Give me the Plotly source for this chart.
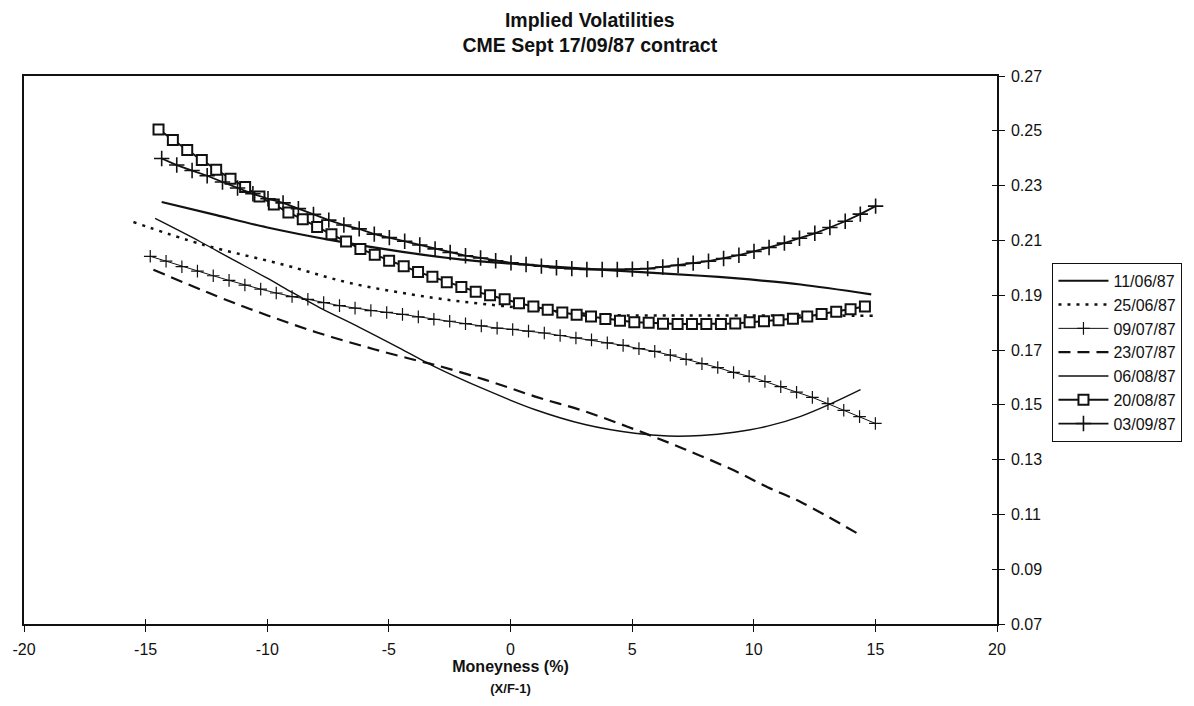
import plotly.graph_objects as go

# ---------------- data ----------------
x_1106 = [-14.34, -12.09, -10.04, -7.31, -4.44, -1.99, 0.5, 3.0, 5.38, 7.84, 9.2, 11.93, 14.83]
y_1106 = [0.2240, 0.2192, 0.2148, 0.2100, 0.2058, 0.2030, 0.2012, 0.1997, 0.1984, 0.1971, 0.1962, 0.1939, 0.1903]

x_2506 = [-15.5, -12.63, -9.36, -6.62, -3.21, -0.35, 3.75, 7.84, 11.93, 14.9]
y_2506 = [0.2167, 0.2084, 0.2012, 0.1945, 0.1891, 0.1861, 0.1829, 0.1826, 0.1826, 0.1825]

x_0907 = [-14.81, -14.16, -13.51, -12.87, -12.22, -11.57, -10.92, -10.27, -9.63, -8.98,
          -8.33, -7.68, -7.03, -6.39, -5.74, -5.09, -4.44, -3.79, -3.15, -2.50,
          -1.85, -1.20, -0.55, 0.09, 0.74, 1.39, 2.04, 2.69, 3.33, 3.98,
          4.63, 5.28, 5.93, 6.57, 7.22, 7.87, 8.52, 9.17, 9.81, 10.46,
          11.11, 11.76, 12.41, 13.05, 13.70, 14.35, 15.00]
y_0907 = [0.2042, 0.2024, 0.2004, 0.1988, 0.1971, 0.1954, 0.1937, 0.1922, 0.1908, 0.1895,
          0.1885, 0.1873, 0.1862, 0.1853, 0.1844, 0.1837, 0.1830, 0.1821, 0.1812, 0.1805,
          0.1796, 0.1788, 0.1780, 0.1775, 0.1769, 0.1762, 0.1753, 0.1744, 0.1737, 0.1726,
          0.1717, 0.1705, 0.1695, 0.1681, 0.1666, 0.1650, 0.1636, 0.1618, 0.1604, 0.1585,
          0.1566, 0.1546, 0.1527, 0.1504, 0.1480, 0.1457, 0.1432]

x_2307 = [-14.68, -12.09, -10.04, -7.99, -5.94, -4.17, -3.08, -1.03, 1.02, 3.06,
          5.11, 7.16, 9.20, 10.57, 11.93, 14.47]
y_2307 = [0.1993, 0.1897, 0.1828, 0.1765, 0.1711, 0.1669, 0.1645, 0.1591, 0.1530, 0.1476,
          0.1410, 0.1338, 0.1260, 0.1199, 0.1145, 0.1020]

x_0608 = [-14.61, -12.77, -11.54, -10.04, -8.95, -7.85, -6.21, -4.58, -3.21, -1.03,
          1.02, 3.06, 5.11, 6.48, 7.84, 9.20, 10.57, 11.93, 13.2, 14.39]
y_0608 = [0.2180, 0.2096, 0.2036, 0.1964, 0.1909, 0.1855, 0.1783, 0.1708, 0.1643, 0.1555,
          0.1482, 0.1428, 0.1396, 0.1386, 0.1388, 0.1400, 0.1422, 0.1458, 0.1505, 0.1555]

x_2008 = [-14.47, -13.88, -13.29, -12.69, -12.10, -11.51, -10.91, -10.32, -9.73, -9.13,
          -8.54, -7.95, -7.36, -6.76, -6.17, -5.58, -4.99, -4.39, -3.80, -3.21,
          -2.62, -2.02, -1.43, -0.84, -0.24, 0.35, 0.94, 1.53, 2.13, 2.72,
          3.31, 3.90, 4.50, 5.09, 5.68, 6.27, 6.87, 7.46, 8.05, 8.65,
          9.24, 9.83, 10.42, 11.02, 11.61, 12.20, 12.79, 13.39, 13.98, 14.57]
y_2008 = [0.2505, 0.2466, 0.2430, 0.2393, 0.2358, 0.2325, 0.2295, 0.2260, 0.2231, 0.2202,
          0.2177, 0.2149, 0.2122, 0.2096, 0.2069, 0.2048, 0.2026, 0.2006, 0.1985, 0.1967,
          0.1947, 0.1930, 0.1913, 0.1900, 0.1885, 0.1871, 0.1859, 0.1847, 0.1837, 0.1829,
          0.1822, 0.1813, 0.1807, 0.1801, 0.1799, 0.1796, 0.1795, 0.1795, 0.1795, 0.1795,
          0.1797, 0.1801, 0.1805, 0.1809, 0.1814, 0.1822, 0.1831, 0.1840, 0.1849, 0.1859]

x_0309 = [-14.34, -13.72, -13.09, -12.47, -11.84, -11.22, -10.59, -9.97, -9.35, -8.72,
          -8.10, -7.47, -6.85, -6.22, -5.60, -4.98, -4.35, -3.73, -3.10, -2.48,
          -1.85, -1.23, -0.61, 0.02, 0.64, 1.27, 1.89, 2.52, 3.14, 3.77,
          4.39, 5.01, 5.64, 6.26, 6.89, 7.51, 8.14, 8.76, 9.39, 10.01,
          10.63, 11.26, 11.88, 12.51, 13.13, 13.76, 14.38, 15.01]
y_0309 = [0.2399, 0.2375, 0.2355, 0.2336, 0.2313, 0.2291, 0.2270, 0.2252, 0.2237, 0.2216,
          0.2195, 0.2174, 0.2156, 0.2142, 0.2123, 0.2110, 0.2097, 0.2083, 0.2069, 0.2056,
          0.2044, 0.2036, 0.2026, 0.2018, 0.2012, 0.2006, 0.2000, 0.1997, 0.1994, 0.1994,
          0.1994, 0.1995, 0.1997, 0.2003, 0.2009, 0.2017, 0.2024, 0.2034, 0.2046, 0.2060,
          0.2074, 0.2090, 0.2108, 0.2126, 0.2147, 0.2170, 0.2196, 0.2225]

x_ticks = [-20, -15, -10, -5, 0, 5, 10, 15, 20]
x_tick_labels = ["-20", "-15", "-10", "-5", "0", "5", "10", "15", "20"]
y_ticks = [0.07, 0.09, 0.11, 0.13, 0.15, 0.17, 0.19, 0.21, 0.23, 0.25, 0.27]

FONT = "Liberation Sans, Arial, Helvetica, sans-serif"
BLACK = "#111111"

fig = go.Figure()

fig.add_trace(go.Scatter(x=x_1106, y=y_1106, name="11/06/87", mode="lines",
                         line=dict(color=BLACK, width=2.2, shape="spline", smoothing=0.8)))
fig.add_trace(go.Scatter(x=x_2506, y=y_2506, name="25/06/87", mode="lines",
                         line=dict(color=BLACK, width=2.5, dash="3px,6px", shape="spline")))
fig.add_trace(go.Scatter(x=x_0907, y=y_0907, name="09/07/87", mode="lines+markers",
                         line=dict(color=BLACK, width=1),
                         marker=dict(symbol="cross-thin", size=9, color=BLACK,
                                     line=dict(color=BLACK, width=1.2))))
fig.add_trace(go.Scatter(x=x_2307, y=y_2307, name="23/07/87", mode="lines",
                         line=dict(color=BLACK, width=2.2, dash="12px,7px", shape="spline")))
fig.add_trace(go.Scatter(x=x_0608, y=y_0608, name="06/08/87", mode="lines",
                         line=dict(color=BLACK, width=1.4, shape="spline")))
fig.add_trace(go.Scatter(x=x_2008, y=y_2008, name="20/08/87", mode="lines+markers",
                         line=dict(color=BLACK, width=2),
                         marker=dict(symbol="square", size=10, color="white",
                                     line=dict(color=BLACK, width=2))))
fig.add_trace(go.Scatter(x=x_0309, y=y_0309, name="03/09/87", mode="lines+markers",
                         line=dict(color=BLACK, width=1.8),
                         marker=dict(symbol="cross-thin", size=11, color=BLACK,
                                     line=dict(color=BLACK, width=1.6))))

# invisible helper trace for the overlay axes carrying the inner halves of the ticks
fig.add_trace(go.Scatter(x=[x_ticks[0]], y=[y_ticks[0]], xaxis="x2", yaxis="y2",
                         mode="markers", marker=dict(opacity=0), showlegend=False,
                         hoverinfo="skip"))

fig.update_layout(
    width=1194, height=706,
    paper_bgcolor="white", plot_bgcolor="white",
    margin=dict(l=20, r=197, t=76, b=76),
    font=dict(family=FONT, color=BLACK, size=16),
    title=dict(text="<b>Implied Volatilities<br>CME Sept 17/09/87 contract</b>",
               x=0.494, xanchor="center", y=0.962, yanchor="top",
               font=dict(family=FONT, size=19.5, color=BLACK)),
    xaxis=dict(range=[-20, 20], tickvals=x_ticks, ticktext=x_tick_labels,
               ticks="outside", ticklen=6, ticklabelstandoff=4,
               tickwidth=1.2, tickcolor=BLACK, showline=True, linecolor=BLACK,
               linewidth=1.5, mirror=True, showgrid=False, zeroline=False,
               tickfont=dict(size=16),
               title=dict(text="<b>Moneyness (%)</b><br><span style='font-size:13px'><b>(X/F-1)</b></span>",
                          font=dict(size=16), standoff=4)),
    yaxis=dict(range=[0.07, 0.27], tickvals=y_ticks, tickformat=".2f", side="right",
               ticks="outside", ticklen=6, ticklabelstandoff=3,
               tickwidth=1.2, tickcolor=BLACK,
               showline=True, linecolor=BLACK, linewidth=1.5, mirror=True,
               showgrid=False, zeroline=False, tickfont=dict(size=16)),
    xaxis2=dict(range=[-20, 20], tickvals=x_ticks, overlaying="x", side="bottom",
                ticks="inside", ticklen=5, tickwidth=1.2, tickcolor=BLACK,
                showticklabels=False, showline=False, showgrid=False, zeroline=False),
    yaxis2=dict(range=[0.07, 0.27], tickvals=y_ticks, overlaying="y", side="right",
                ticks="inside", ticklen=5, tickwidth=1.2, tickcolor=BLACK,
                showticklabels=False, showline=False, showgrid=False, zeroline=False),
    legend=dict(x=1.057, y=0.659, xanchor="left", yanchor="top",
                bordercolor=BLACK, borderwidth=1, bgcolor="white",
                font=dict(family=FONT, size=16, color=BLACK),
                itemwidth=50, tracegroupgap=0),
    showlegend=True,
)

fig.write_html("out.html")
